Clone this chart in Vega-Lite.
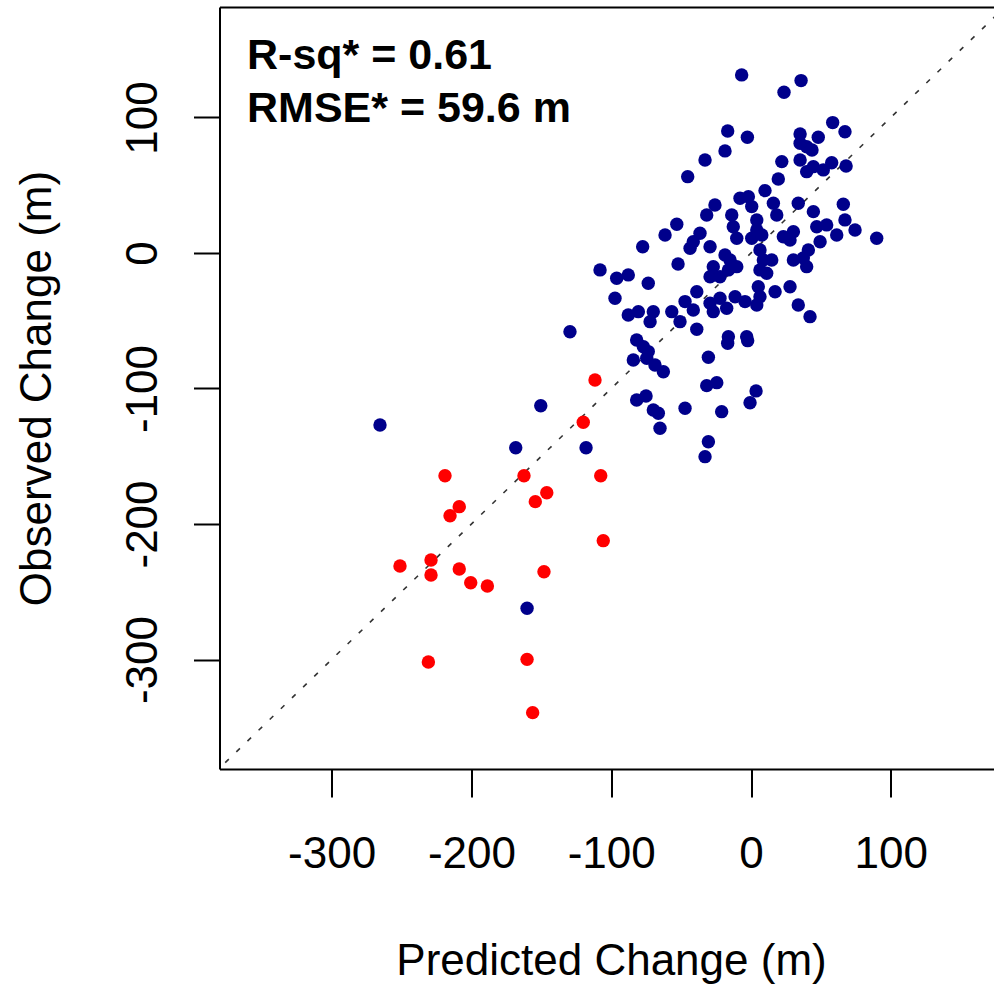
{
  "$schema": "https://vega.github.io/schema/vega-lite/v6.json",
  "autosize": {"type": "none"},
  "padding": {"left": 219.5, "top": 7, "right": 0, "bottom": 215},
  "width": 774.5,
  "height": 762,
  "background": "white",
  "config": {
    "view": {"stroke": null},
    "font": "Liberation Sans",
    "axis": {"grid": false, "domainColor": "black", "domainWidth": 2, "tickColor": "black", "tickWidth": 2, "labelColor": "black", "titleColor": "black", "labelFont": "Liberation Sans", "titleFont": "Liberation Sans", "labelFontWeight": "normal", "titleFontWeight": "normal"}
  },
  "datasets": {
    "pts": [
      {"x": -6.7, "y": 131.4, "cls": "blue"},
      {"x": 35.8, "y": 127.2, "cls": "blue"},
      {"x": 23.6, "y": 118.6, "cls": "blue"},
      {"x": -16.7, "y": 90.0, "cls": "blue"},
      {"x": -2.6, "y": 85.4, "cls": "blue"},
      {"x": 58.4, "y": 96.2, "cls": "blue"},
      {"x": 67.2, "y": 89.5, "cls": "blue"},
      {"x": 35.1, "y": 87.8, "cls": "blue"},
      {"x": 48.1, "y": 85.4, "cls": "blue"},
      {"x": 39.8, "y": 78.4, "cls": "blue"},
      {"x": 35.1, "y": 81.0, "cls": "blue"},
      {"x": 43.6, "y": 76.0, "cls": "blue"},
      {"x": -18.6, "y": 75.3, "cls": "blue"},
      {"x": -32.9, "y": 68.6, "cls": "blue"},
      {"x": -45.3, "y": 56.3, "cls": "blue"},
      {"x": 22.0, "y": 67.4, "cls": "blue"},
      {"x": 35.1, "y": 68.6, "cls": "blue"},
      {"x": 44.6, "y": 63.7, "cls": "blue"},
      {"x": 39.8, "y": 60.0, "cls": "blue"},
      {"x": 51.7, "y": 61.3, "cls": "blue"},
      {"x": 57.7, "y": 66.6, "cls": "blue"},
      {"x": 68.0, "y": 64.2, "cls": "blue"},
      {"x": 19.5, "y": 54.6, "cls": "blue"},
      {"x": 10.0, "y": 46.0, "cls": "blue"},
      {"x": -7.9, "y": 40.4, "cls": "blue"},
      {"x": -1.9, "y": 41.5, "cls": "blue"},
      {"x": -25.8, "y": 35.4, "cls": "blue"},
      {"x": -31.7, "y": 28.0, "cls": "blue"},
      {"x": 0.5, "y": 34.2, "cls": "blue"},
      {"x": -13.8, "y": 28.0, "cls": "blue"},
      {"x": 4.1, "y": 24.4, "cls": "blue"},
      {"x": -12.7, "y": 19.4, "cls": "blue"},
      {"x": 4.1, "y": 17.0, "cls": "blue"},
      {"x": -10.2, "y": 10.8, "cls": "blue"},
      {"x": 0.5, "y": 10.8, "cls": "blue"},
      {"x": 7.7, "y": 13.3, "cls": "blue"},
      {"x": 16.0, "y": 36.7, "cls": "blue"},
      {"x": 18.4, "y": 28.0, "cls": "blue"},
      {"x": 33.8, "y": 36.7, "cls": "blue"},
      {"x": 66.0, "y": 35.9, "cls": "blue"},
      {"x": 44.6, "y": 30.5, "cls": "blue"},
      {"x": 47.0, "y": 19.4, "cls": "blue"},
      {"x": 54.1, "y": 20.7, "cls": "blue"},
      {"x": 61.3, "y": 13.3, "cls": "blue"},
      {"x": 67.2, "y": 24.4, "cls": "blue"},
      {"x": 74.4, "y": 17.0, "cls": "blue"},
      {"x": 89.9, "y": 10.8, "cls": "blue"},
      {"x": 23.1, "y": 12.0, "cls": "blue"},
      {"x": 30.3, "y": 15.7, "cls": "blue"},
      {"x": 27.9, "y": 9.6, "cls": "blue"},
      {"x": -36.5, "y": 14.5, "cls": "blue"},
      {"x": -41.3, "y": 8.3, "cls": "blue"},
      {"x": -43.6, "y": 3.5, "cls": "blue"},
      {"x": -29.3, "y": 4.6, "cls": "blue"},
      {"x": -53.1, "y": 21.2, "cls": "blue"},
      {"x": -61.5, "y": 13.3, "cls": "blue"},
      {"x": -77.5, "y": 4.6, "cls": "blue"},
      {"x": 41.0, "y": 2.2, "cls": "blue"},
      {"x": 49.4, "y": 8.3, "cls": "blue"},
      {"x": 30.3, "y": -5.2, "cls": "blue"},
      {"x": 39.8, "y": -10.1, "cls": "blue"},
      {"x": 37.4, "y": -3.7, "cls": "blue"},
      {"x": 6.4, "y": 2.2, "cls": "blue"},
      {"x": 8.8, "y": -5.2, "cls": "blue"},
      {"x": 14.8, "y": -5.2, "cls": "blue"},
      {"x": 6.4, "y": -12.5, "cls": "blue"},
      {"x": 11.2, "y": -15.0, "cls": "blue"},
      {"x": -18.6, "y": -1.5, "cls": "blue"},
      {"x": -15.0, "y": -5.2, "cls": "blue"},
      {"x": -27.0, "y": -10.1, "cls": "blue"},
      {"x": -29.3, "y": -17.5, "cls": "blue"},
      {"x": -22.2, "y": -17.5, "cls": "blue"},
      {"x": -16.2, "y": -12.5, "cls": "blue"},
      {"x": -10.2, "y": -10.1, "cls": "blue"},
      {"x": -52.2, "y": -8.1, "cls": "blue"},
      {"x": -108.0, "y": -12.5, "cls": "blue"},
      {"x": -96.1, "y": -18.7, "cls": "blue"},
      {"x": -87.8, "y": -16.2, "cls": "blue"},
      {"x": -73.5, "y": -22.4, "cls": "blue"},
      {"x": -97.3, "y": -33.4, "cls": "blue"},
      {"x": 5.2, "y": -24.9, "cls": "blue"},
      {"x": 17.2, "y": -28.6, "cls": "blue"},
      {"x": 27.9, "y": -24.9, "cls": "blue"},
      {"x": 33.8, "y": -38.4, "cls": "blue"},
      {"x": 42.2, "y": -47.0, "cls": "blue"},
      {"x": -56.7, "y": -43.3, "cls": "blue"},
      {"x": -50.8, "y": -50.7, "cls": "blue"},
      {"x": -47.2, "y": -35.9, "cls": "blue"},
      {"x": -41.3, "y": -42.1, "cls": "blue"},
      {"x": -38.8, "y": -28.6, "cls": "blue"},
      {"x": -38.8, "y": -56.3, "cls": "blue"},
      {"x": -29.3, "y": -37.1, "cls": "blue"},
      {"x": -22.2, "y": -33.4, "cls": "blue"},
      {"x": -27.0, "y": -43.3, "cls": "blue"},
      {"x": -17.4, "y": -40.8, "cls": "blue"},
      {"x": -11.4, "y": -32.3, "cls": "blue"},
      {"x": -4.3, "y": -35.9, "cls": "blue"},
      {"x": 4.1, "y": -38.4, "cls": "blue"},
      {"x": 6.4, "y": -32.3, "cls": "blue"},
      {"x": -16.2, "y": -61.8, "cls": "blue"},
      {"x": -3.1, "y": -61.8, "cls": "blue"},
      {"x": -87.8, "y": -45.8, "cls": "blue"},
      {"x": -80.6, "y": -43.3, "cls": "blue"},
      {"x": -69.9, "y": -43.3, "cls": "blue"},
      {"x": -72.2, "y": -50.7, "cls": "blue"},
      {"x": -129.5, "y": -58.1, "cls": "blue"},
      {"x": -81.8, "y": -64.2, "cls": "blue"},
      {"x": -77.0, "y": -69.2, "cls": "blue"},
      {"x": -73.5, "y": -72.8, "cls": "blue"},
      {"x": -84.2, "y": -79.0, "cls": "blue"},
      {"x": -74.6, "y": -77.7, "cls": "blue"},
      {"x": -68.7, "y": -82.7, "cls": "blue"},
      {"x": -62.7, "y": -87.6, "cls": "blue"},
      {"x": -30.5, "y": -77.0, "cls": "blue"},
      {"x": -16.7, "y": -66.6, "cls": "blue"},
      {"x": -2.4, "y": -64.7, "cls": "blue"},
      {"x": -31.7, "y": -97.9, "cls": "blue"},
      {"x": -24.5, "y": -95.7, "cls": "blue"},
      {"x": -81.8, "y": -108.5, "cls": "blue"},
      {"x": -75.1, "y": -105.5, "cls": "blue"},
      {"x": -69.9, "y": -115.9, "cls": "blue"},
      {"x": -66.3, "y": -118.3, "cls": "blue"},
      {"x": -65.1, "y": -129.4, "cls": "blue"},
      {"x": -47.2, "y": -114.6, "cls": "blue"},
      {"x": -21.0, "y": -117.1, "cls": "blue"},
      {"x": -0.7, "y": -110.5, "cls": "blue"},
      {"x": 3.6, "y": -101.8, "cls": "blue"},
      {"x": -30.5, "y": -139.3, "cls": "blue"},
      {"x": -32.9, "y": -150.3, "cls": "blue"},
      {"x": -150.4, "y": -112.7, "cls": "blue"},
      {"x": -265.4, "y": -126.9, "cls": "blue"},
      {"x": -168.3, "y": -143.7, "cls": "blue"},
      {"x": -118.0, "y": -143.7, "cls": "blue"},
      {"x": -160.2, "y": -262.2, "cls": "blue"},
      {"x": -111.6, "y": -93.7, "cls": "red"},
      {"x": -120.0, "y": -124.9, "cls": "red"},
      {"x": -218.9, "y": -164.4, "cls": "red"},
      {"x": -162.4, "y": -164.4, "cls": "red"},
      {"x": -107.5, "y": -164.4, "cls": "red"},
      {"x": -146.1, "y": -176.9, "cls": "red"},
      {"x": -154.3, "y": -183.5, "cls": "red"},
      {"x": -208.7, "y": -187.2, "cls": "red"},
      {"x": -215.3, "y": -193.9, "cls": "red"},
      {"x": -105.7, "y": -212.3, "cls": "red"},
      {"x": -251.1, "y": -231.0, "cls": "red"},
      {"x": -228.9, "y": -226.6, "cls": "red"},
      {"x": -228.9, "y": -237.6, "cls": "red"},
      {"x": -208.7, "y": -233.2, "cls": "red"},
      {"x": -200.5, "y": -243.3, "cls": "red"},
      {"x": -188.6, "y": -245.8, "cls": "red"},
      {"x": -148.1, "y": -235.2, "cls": "red"},
      {"x": -230.8, "y": -301.8, "cls": "red"},
      {"x": -160.2, "y": -299.9, "cls": "red"},
      {"x": -156.2, "y": -339.2, "cls": "red"}
    ],
    "diag": [{"x": -400, "y": -400}, {"x": 200, "y": 200}],
    "note": [{"x": -360.5, "y": 135.8, "label": ["R-sq* = 0.61", "RMSE* = 59.6 m"]}]
  },
  "layer": [
    {
      "data": {"name": "diag"},
      "mark": {"type": "line", "clip": true, "color": "#333333", "strokeWidth": 1.6, "strokeDash": [5, 10.5]},
      "encoding": {
        "x": {"field": "x", "type": "quantitative", "scale": {"domain": [-380.2, 173.8], "nice": false, "zero": false},
          "axis": {"orient": "top", "labels": false, "ticks": false, "title": null, "domain": true}},
        "y": {"field": "y", "type": "quantitative", "scale": {"domain": [-380.8, 181.5], "nice": false, "zero": false},
          "axis": {"orient": "left", "values": [-300, -200, -100, 0, 100], "title": "Observed Change (m)", "labelExpr": "datum.value < 0 ? '-' + abs(datum.value) : '' + datum.value", "labelFontSize": 44, "titleFontSize": 44, "labelAngle": -90, "labelAlign": "center", "labelBaseline": "alphabetic", "tickSize": 26, "labelPadding": 37.5, "titleAngle": -90, "titleAlign": "center", "titleBaseline": "alphabetic", "titleX": -169.5, "titleY": 381, "labelFlush": false, "labelOverlap": false}}
      }
    },
    {
      "data": {"name": "pts"},
      "mark": {"type": "circle", "size": 180, "opacity": 1},
      "encoding": {
        "x": {"field": "x", "type": "quantitative",
          "axis": {"orient": "bottom", "values": [-300, -200, -100, 0, 100], "title": "Predicted Change (m)", "labelExpr": "datum.value < 0 ? '-' + abs(datum.value) : '' + datum.value", "labelFontSize": 44, "titleFontSize": 44, "tickSize": 28, "labelPadding": 70, "labelBaseline": "alphabetic", "titleBaseline": "alphabetic", "titleX": 391.5, "titleY": 205, "labelFlush": false, "labelOverlap": false}},
        "y": {"field": "y", "type": "quantitative"},
        "color": {"field": "cls", "type": "nominal", "scale": {"domain": ["blue", "red"], "range": ["#00008B", "#FF0000"]}, "legend": null}
      }
    },
    {
      "data": {"name": "note"},
      "mark": {"type": "text", "font": "Liberation Sans", "fontWeight": "bold", "fontSize": 43, "align": "left", "baseline": "alphabetic", "lineHeight": 53, "color": "black"},
      "encoding": {
        "x": {"field": "x", "type": "quantitative", "axis": null},
        "y": {"field": "y", "type": "quantitative"},
        "text": {"field": "label"}
      }
    }
  ]
}
